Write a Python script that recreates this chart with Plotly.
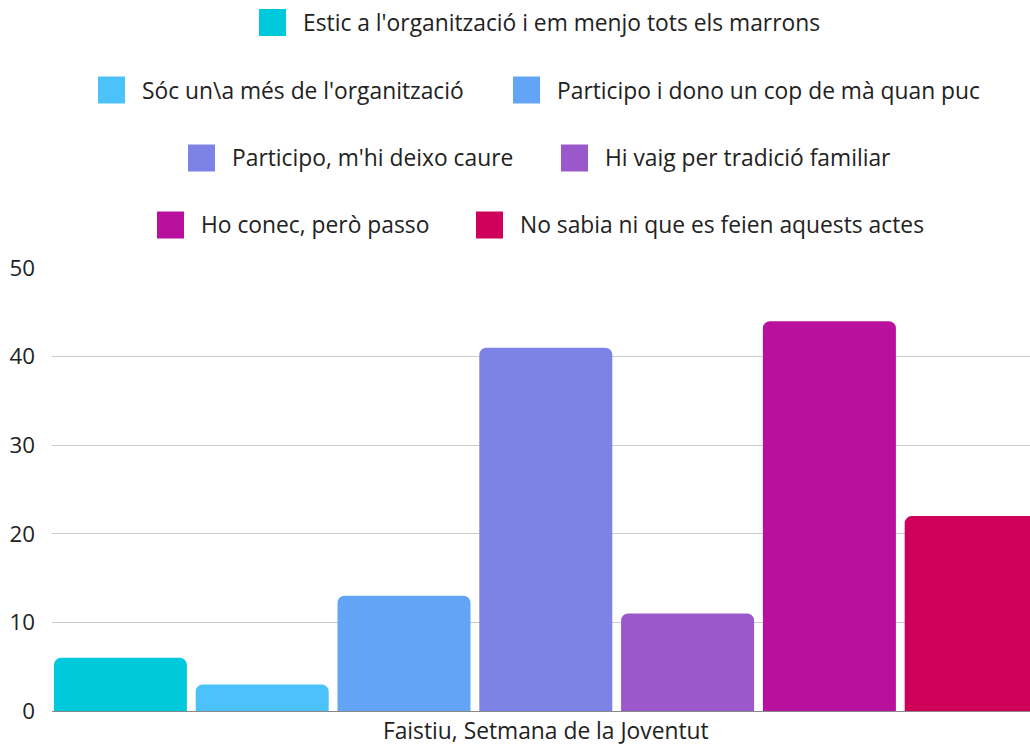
import plotly.graph_objects as go

# ---- data ----
category = ["Faistiu, Setmana de la Joventut"]
series_names = [
    "Estic a l'organització i em menjo tots els marrons",
    "Sóc un\\a més de l'organització",
    "Participo i dono un cop de mà quan puc",
    "Participo, m'hi deixo caure",
    "Hi vaig per tradició familiar",
    "Ho conec, però passo",
    "No sabia ni que es feien aquests actes",
]
series_values = [6, 3, 13, 41, 11, 44, 22]
y_ticks = [0, 10, 20, 30, 40, 50]

# ---- styles ----
colors = ["#00C9DB", "#4CC2FA", "#63A4F7", "#7D82E6", "#9A58CB", "#B9119D", "#CF005A"]
FONT = "Open Sans"
TXT = "#222222"
FS = 22.8
FS_TICK = 22.3

W, H = 1030, 746
ML, MR, MT, MB = 52, 0, 268, 35
PW, PH = W - ML - MR, H - MT - MB

fig = go.Figure()
for name, val, col in zip(series_names, series_values, colors):
    fig.add_trace(go.Bar(
        x=category, y=[val], name=name,
        marker=dict(color=col, line=dict(width=0), cornerradius=7),
        showlegend=False,
    ))

# manual centered legend rows (layout positions in pixels)
legend_rows_y = [22.5, 90, 158, 225]
legend_row_of = [0, 1, 1, 2, 2, 3, 3]
legend_swatch_left = [259, 98, 513, 188, 561, 157, 476]
SW = 27

def px_x(p):
    return (p - ML) / PW

def px_y(p):
    return (H - MB - p) / PH

shapes = []
annotations = []
for i, name in enumerate(series_names):
    cy = legend_rows_y[legend_row_of[i]]
    x0 = legend_swatch_left[i]
    shapes.append(dict(
        type="rect", xref="paper", yref="paper",
        x0=px_x(x0), x1=px_x(x0 + SW), y0=px_y(cy + SW / 2), y1=px_y(cy - SW / 2),
        fillcolor=colors[i], line=dict(width=0), layer="above",
    ))
    annotations.append(dict(
        xref="paper", yref="paper", x=px_x(x0 + SW + 15), y=px_y(cy),
        xanchor="left", yanchor="middle", text=name, showarrow=False,
        font=dict(family=FONT, size=FS, color=TXT),
    ))

fig.update_layout(
    width=W, height=H,
    margin=dict(l=ML, r=MR, t=MT, b=MB, pad=0, autoexpand=False),
    paper_bgcolor="white", plot_bgcolor="white",
    barmode="group", bargap=0.0074, bargroupgap=0.062,
    font=dict(family=FONT, size=FS, color=TXT),
    shapes=shapes, annotations=annotations,
    showlegend=False,
    xaxis=dict(
        type="category", range=[-0.4938, 0.4842], automargin=False,
        showgrid=False, zeroline=False, showline=False,
        ticks="", tickfont=dict(family=FONT, size=FS, color=TXT),
        ticklabelstandoff=4,
    ),
    yaxis=dict(
        range=[0, 50], tickvals=y_ticks, ticktext=[str(v) for v in y_ticks],
        automargin=False,
        showgrid=True, gridcolor="#CCCCCC", gridwidth=1,
        zeroline=True, zerolinecolor="#888888", zerolinewidth=1,
        showline=False, ticks="",
        tickfont=dict(family=FONT, size=FS_TICK, color=TXT),
        ticklabelstandoff=16,
    ),
)

fig.write_html(
    "out.html",
    config={"displayModeBar": False},
    post_script="document.body.style.margin='0';document.body.style.overflow='hidden';",
)
